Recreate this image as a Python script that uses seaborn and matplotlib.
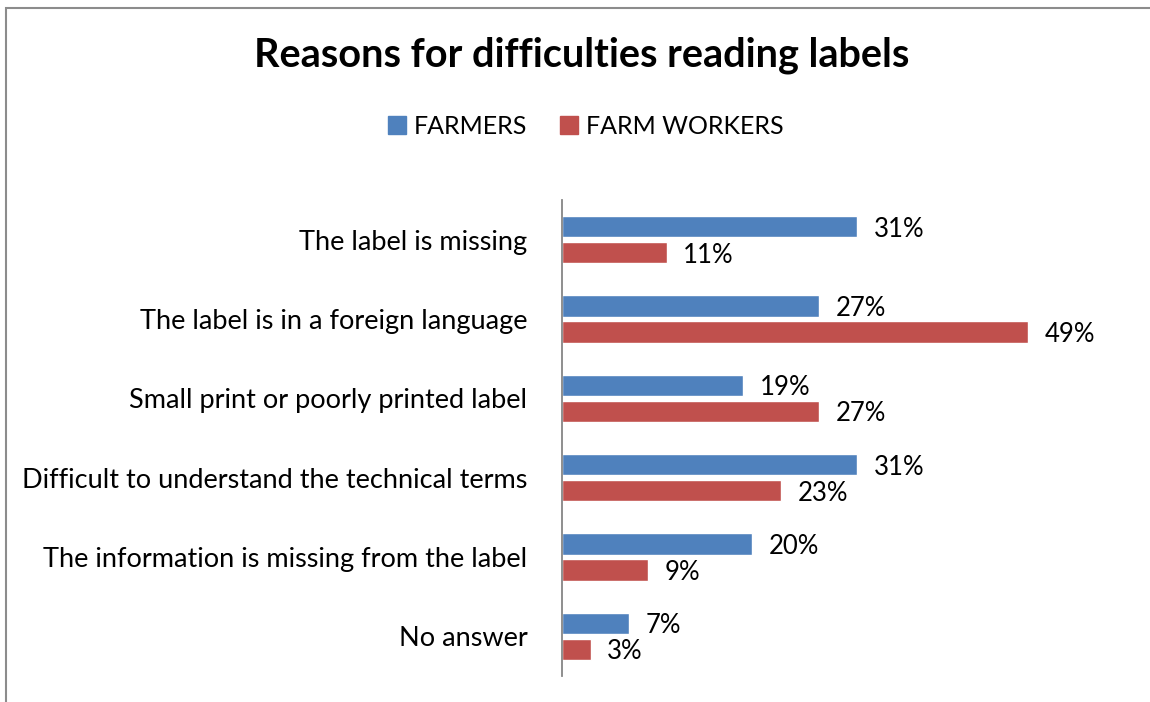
import matplotlib
matplotlib.use("Agg")
import matplotlib.pyplot as plt
from matplotlib.patches import Rectangle
import seaborn as sns
import pandas as pd

categories = [
    "The label is missing",
    "The label is in a foreign language",
    "Small print or poorly printed label",
    "Difficult to understand the technical terms",
    "The information is missing from the label",
    "No answer",
]
farmers = [31, 27, 19, 31, 20, 7]
farm_workers = [11, 49, 27, 23, 9, 3]
series_names = ["FARMERS", "FARM WORKERS"]
colors = ["#4F81BD", "#C0504D"]

sns.set_style("white")
plt.rcParams["font.family"] = ["Lato", "DejaVu Sans"]
plt.rcParams["text.color"] = "black"

df = pd.DataFrame({
    "category": categories * 2,
    "value": farmers + farm_workers,
    "series": [series_names[0]] * len(categories) + [series_names[1]] * len(categories),
})

W, H = 1150, 702
fig = plt.figure(figsize=(W / 100, H / 100), dpi=100)
ax = fig.add_axes([562 / W, 1 - 676 / H, 567 / W, 476 / H])

sns.barplot(data=df, y="category", x="value", hue="series", orient="h",
            order=categories, hue_order=series_names, palette=colors,
            width=0.656, gap=0.19, saturation=1, ax=ax, legend=False)

ax.set_xlim(0, 59.6)
ax.set_ylim(len(categories) - 0.5, -0.5)
ax.set_xlabel("")
ax.set_ylabel("")
ax.set_xticks([])
ax.tick_params(axis="y", length=0, pad=25, labelsize=19.5, labelcolor="black")
for side in ["top", "right", "bottom"]:
    ax.spines[side].set_visible(False)
ax.spines["left"].set_color("#868686")
ax.spines["left"].set_linewidth(1.3)

for container in ax.containers:
    texts = ax.bar_label(container, labels=[f"{v:.0f}%" for v in container.datavalues],
                         padding=12, fontsize=18.5, color="black")
    for t in texts:
        x, y = t.xy
        t.xy = (x, y + 0.03)

fig.text(582 / W, 1 - 55 / H, "Reasons for difficulties reading labels",
         ha="center", va="center", fontsize=28.5, fontweight="bold", color="black")

# legend entries
handles = [Rectangle((0, 0), 1, 1, color=c) for c in colors]
leg = fig.legend(handles, series_names, loc="center", bbox_to_anchor=(586 / W, 1 - 126 / H),
                 ncol=2, frameon=False, fontsize=18, handlelength=0.7, handleheight=0.7,
                 handletextpad=0.35, columnspacing=1.3)
for t in leg.get_texts():
    t.set_color("black")

# outer chart frame
fig.add_artist(Rectangle((6 / W, -0.05), 1.2, 1 - 8 / H + 0.05, transform=fig.transFigure,
                         fill=False, edgecolor="#8c8c8c", linewidth=1.5))

fig.savefig("out.png", dpi=100)
